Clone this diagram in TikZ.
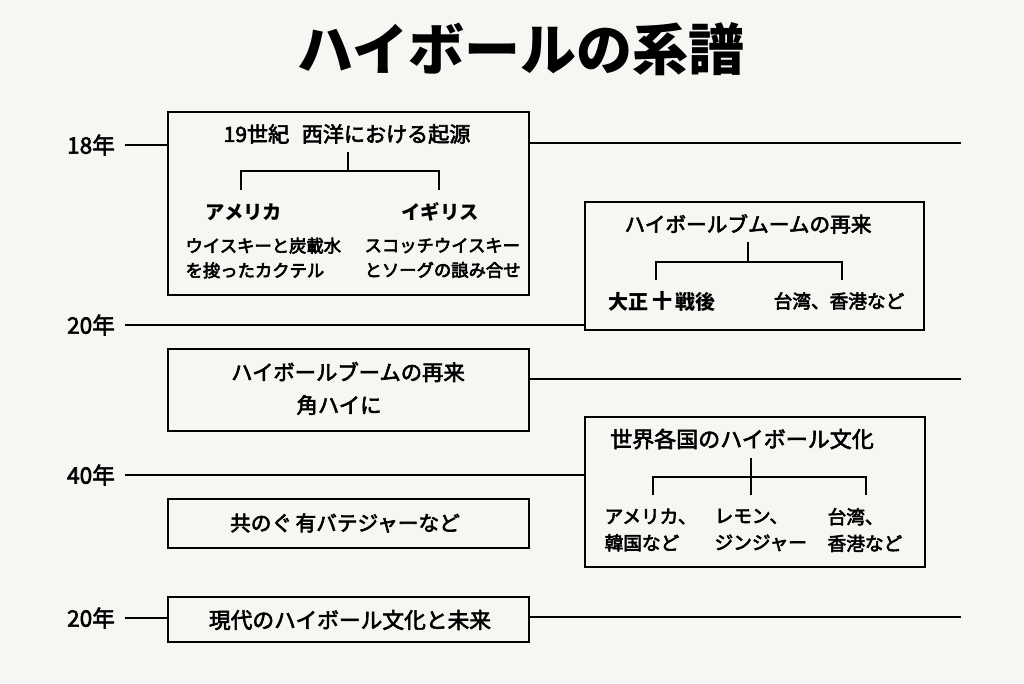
\documentclass[tikz,border=0pt]{standalone}
\usepackage{fontspec}
\setmainfont{Noto Sans CJK JP}
\newcommand\stk[1]{\special{pdf:literal direct 0.45 w 2 Tr}#1\special{pdf:literal direct 0 Tr}}
\begin{document}
\begin{tikzpicture}[x=0.75pt,y=-0.75pt,
  box/.style={draw, line width=1.6pt, inner sep=0pt},
  ln/.style={line width=1.5pt},
  br/.style={line width=1.6pt},
  head/.style={font=\fontsize{15.5}{17}\selectfont, inner sep=1pt},
  item/.style={font=\fontsize{14.5}{16}\selectfont\bfseries, inner sep=1pt},
  desc/.style={font=\fontsize{13}{18.5}\selectfont, align=left, inner sep=1pt},
  cdesc/.style={font=\fontsize{14}{20}\selectfont, align=left, inner sep=1pt},
  yr/.style={font=\fontsize{17}{19}\selectfont, inner sep=2pt},
  ttl/.style={font=\fontsize{42}{44}\selectfont\bfseries, inner sep=0pt}
]
\fill[fill={rgb,255:red,247;green,246;blue,243}] (0,0) rectangle (1024,683);
\useasboundingbox (0,0) rectangle (1024,683);

% title
\node[ttl] (title) at (521,49) {ハイボールの系譜};

% boxes
\node[box, minimum width=361*0.75pt, minimum height=183*0.75pt] (b1) at (348.5,203.5) {};
\node[box, minimum width=339*0.75pt, minimum height=128*0.75pt] (b2) at (754.5,266) {};
\node[box, minimum width=361*0.75pt, minimum height=82*0.75pt] (b3) at (348.5,390) {};
\node[box, minimum width=340*0.75pt, minimum height=150*0.75pt] (b4) at (755,492) {};
\node[box, minimum width=361*0.75pt, minimum height=49*0.75pt] (b5) at (348.5,523.5) {};
\node[box, minimum width=361*0.75pt, minimum height=45*0.75pt] (b6) at (348.5,619.5) {};

% year labels
\node[yr] (y1) at (91,145) {\stk{18年}};
\node[yr] (y2) at (91,325) {\stk{20年}};
\node[yr] (y3) at (91,475) {\stk{40年}};
\node[yr] (y4) at (91,618) {\stk{20年}};

\coordinate (r1) at (961,143);
\coordinate (r3) at (961,379);
\coordinate (r6) at (961,617);

% timeline connectors
\draw[ln] ([xshift=5pt]y1.east) -- (y1.east -| b1.west);
\draw[ln] (b1.east |- r1) -- (r1);
\draw[ln] ([xshift=5pt]y2.east) -- (y2.east -| b2.west);
\draw[ln] (b3.east |- r3) -- (r3);
\draw[ln] ([xshift=5pt]y3.east) -- (y3.east -| b4.west);
\draw[ln] ([xshift=5pt]y4.east) -- (y4.east -| b6.west);
\draw[ln] (b6.east |- r6) -- (r6);

% box 1
\node[head, font=\fontsize{15.8}{17}\selectfont] (t1) at (347,134) {\stk{19世紀\hspace{0.6em}西洋における起源}};
\node[item] (a1) at (244,212) {アメリカ};
\node[item] (e1) at (440,212) {イギリス};
\node[desc, anchor=west] (d1) at (184,258) {\stk{ウイスキーと炭載水}\\\stk{を捘ったカクテル}};
\node[desc, anchor=west] (d2) at (363,258) {\stk{スコッチウイスキー}\\\stk{とソーグの誏み合せ}};
\coordinate (j1) at (348,171);
\coordinate (j1a) at (241,190);
\coordinate (j1b) at (439,190);
\draw[br] (j1 |- 0,152) -- (j1);
\draw[br] (j1a) |- (j1) -| (j1b);

% box 2
\node[head] (t2) at (748,224) {\stk{ハイボールブムームの再来}};
\node[item, font=\fontsize{15}{17}\selectfont\bfseries] (a2) at (662,301) {大正\,\raisebox{0.05em}{十}\,戦後};
\node[head, font=\fontsize{14}{16}\selectfont] (e2) at (839,301) {\stk{台湾、香港など}};
\coordinate (j2) at (748,262);
\coordinate (j2a) at (656,280);
\coordinate (j2b) at (842,280);
\draw[br] (j2 |- 0,242) -- (j2);
\draw[br] (j2a) |- (j2) -| (j2b);

% box 3
\node[head, font=\fontsize{16}{18}\selectfont] (t3) at (348,372) {\stk{ハイボールブームの再来}};
\node[head, font=\fontsize{16}{18}\selectfont] (t3b) at (339,405) {\stk{角ハイに}};

% box 4
\node[head, font=\fontsize{16.5}{18}\selectfont] (t4) at (742,439) {\stk{世界各国のハイボール文化}};
\node[cdesc, anchor=west] (c1) at (603,530) {\stk{アメリカ、}\\\stk{韓国など}};
\node[cdesc, anchor=west] (c2) at (713,530) {\stk{レモン、}\\\stk{ジンジャー}};
\node[cdesc, anchor=west] (c3) at (826,530) {\stk{台湾、}\\\stk{香港など}};
\coordinate (j4) at (751,477);
\coordinate (j4a) at (653,495);
\coordinate (j4b) at (751,495);
\coordinate (j4c) at (866,495);
\draw[br] (j4 |- 0,458) -- (j4b);
\draw[br] (j4a) |- (j4) -| (j4c);

% box 5
\node[head] (t5) at (345,523) {\stk{共のぐ\,有バテジャーなど}};

% box 6
\node[head, font=\fontsize{16.3}{18}\selectfont] (t6) at (350,620) {\stk{現代のハイボール文化と未来}};
\end{tikzpicture}
\end{document}
